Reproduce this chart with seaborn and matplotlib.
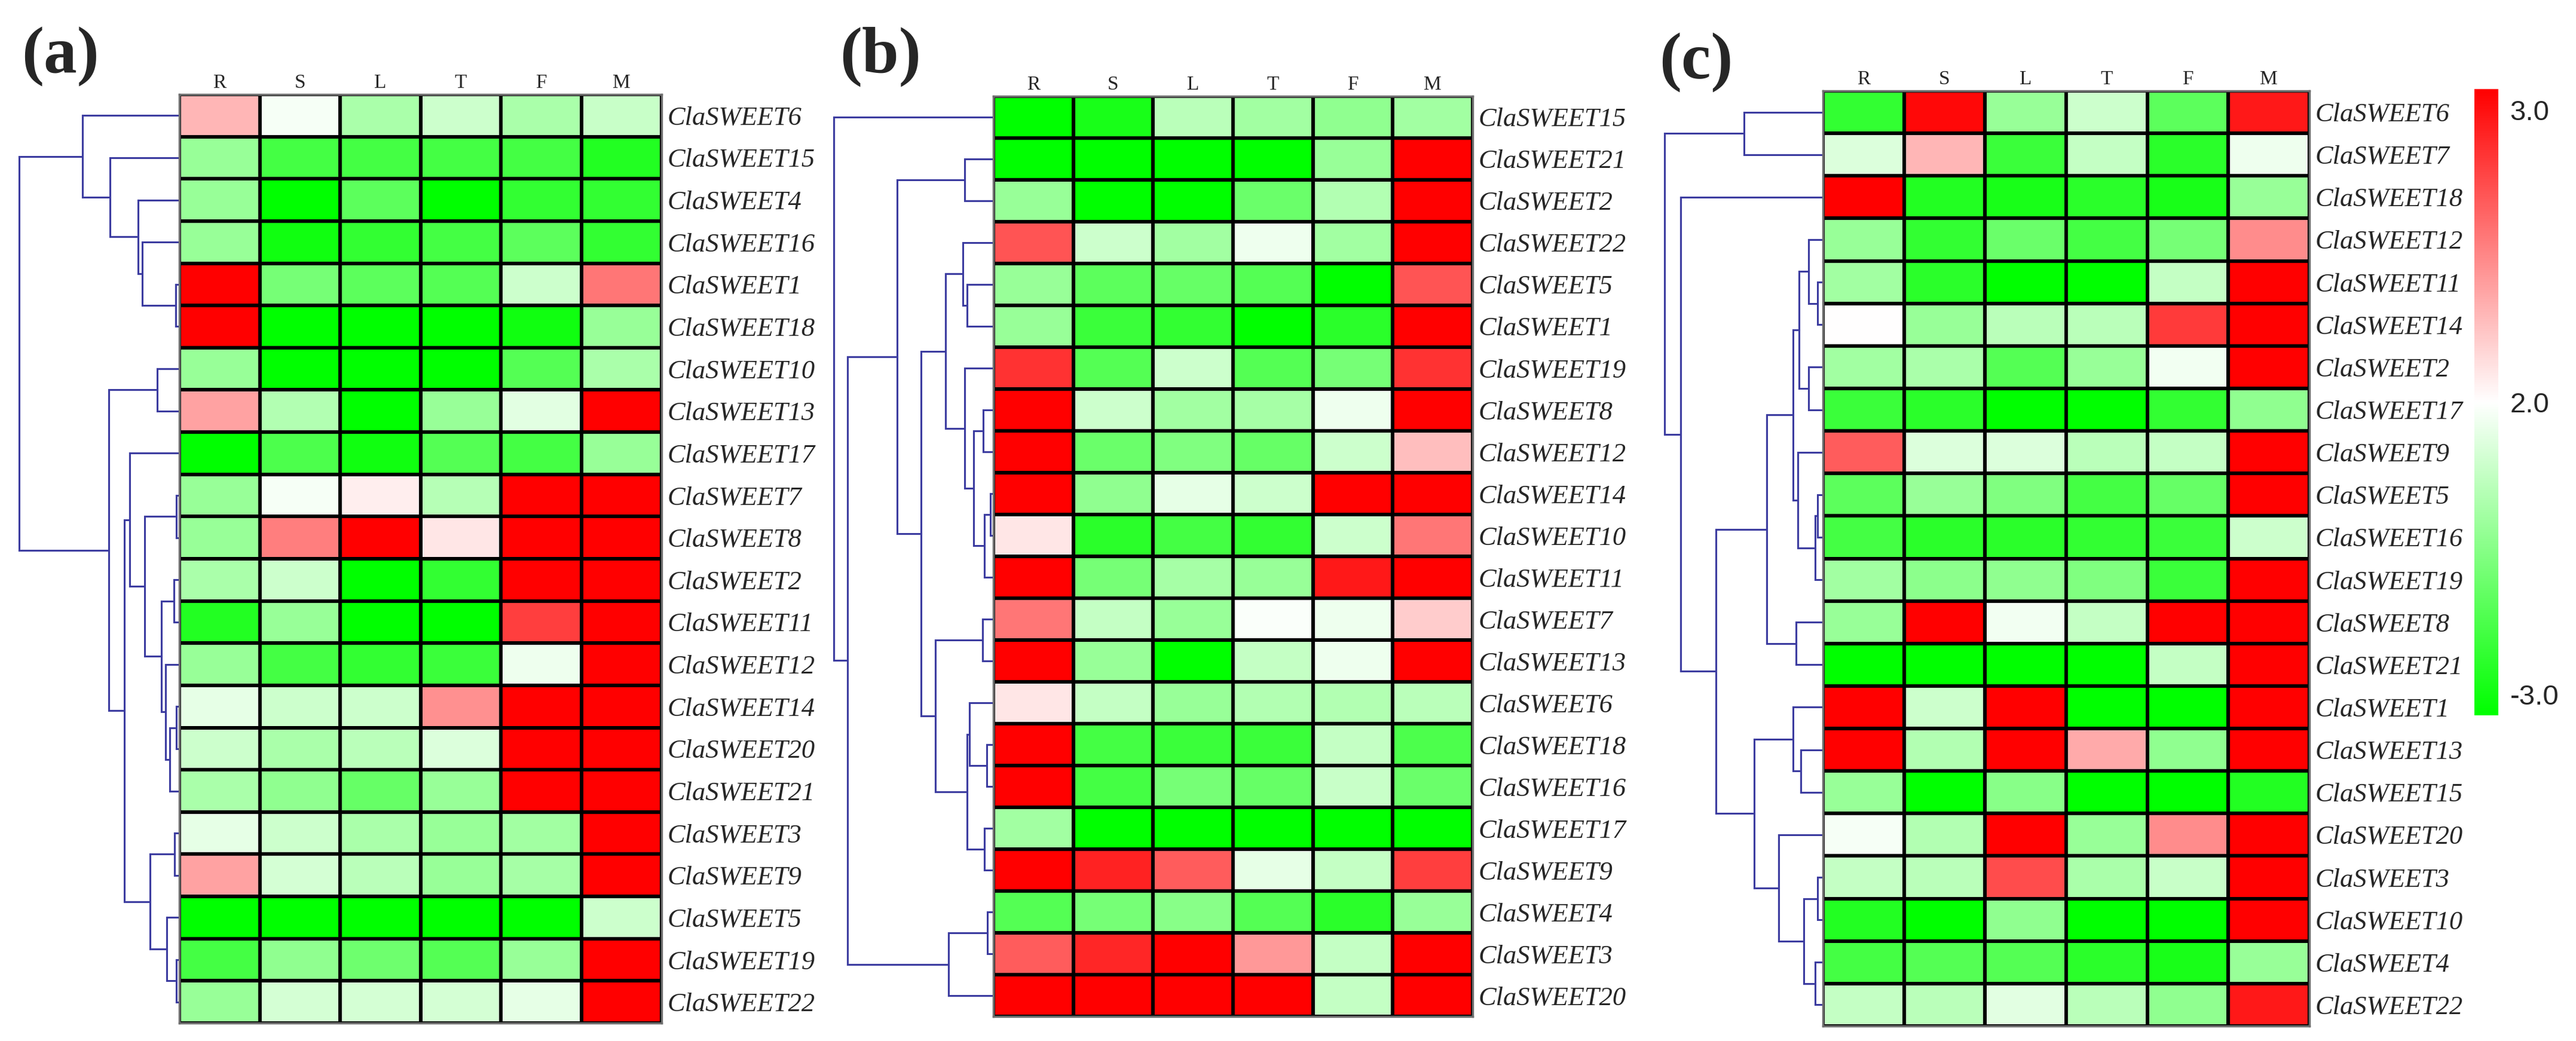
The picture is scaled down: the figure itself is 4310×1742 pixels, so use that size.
import numpy as np
import pandas as pd
import matplotlib
matplotlib.use("Agg")
import matplotlib.pyplot as plt
import seaborn as sns
from matplotlib.colors import LinearSegmentedColormap

W, H = 4310, 1742

TISSUES = ["R", "S", "L", "T", "F", "M"]

# ---- panel (a) ----
GENES_A = ["ClaSWEET6", "ClaSWEET15", "ClaSWEET4", "ClaSWEET16", "ClaSWEET1", "ClaSWEET18",
           "ClaSWEET10", "ClaSWEET13", "ClaSWEET17", "ClaSWEET7", "ClaSWEET8", "ClaSWEET2",
           "ClaSWEET11", "ClaSWEET12", "ClaSWEET14", "ClaSWEET20", "ClaSWEET21", "ClaSWEET3",
           "ClaSWEET9", "ClaSWEET5", "ClaSWEET19", "ClaSWEET22"]
VALUES_A = [
    [0.85, -0.1, -1.0, -0.6, -1.0, -0.65],
    [-1.2, -2.2, -2.2, -2.2, -2.2, -2.6],
    [-1.2, -3.0, -1.9, -3.0, -2.4, -2.4],
    [-1.2, -2.8, -2.4, -2.2, -1.9, -2.4],
    [3.0, -1.6, -1.9, -2.0, -0.6, 1.6],
    [3.0, -3.0, -3.0, -3.0, -2.8, -1.2],
    [-1.2, -3.0, -3.0, -3.0, -2.0, -1.0],
    [1.1, -0.9, -3.0, -1.2, -0.35, 3.0],
    [-3.0, -2.1, -2.8, -2.0, -2.2, -1.2],
    [-1.2, -0.1, 0.2, -0.85, 3.0, 3.0],
    [-1.2, 1.5, 3.0, 0.3, 3.0, 3.0],
    [-1.0, -0.6, -3.0, -2.4, 3.0, 3.0],
    [-2.6, -1.2, -3.0, -3.0, 2.25, 3.0],
    [-1.2, -2.2, -2.4, -2.3, -0.2, 3.0],
    [-0.3, -0.6, -0.6, 1.3, 3.0, 3.0],
    [-0.6, -1.0, -0.8, -0.4, 3.0, 3.0],
    [-1.0, -1.3, -1.8, -1.2, 3.0, 3.0],
    [-0.3, -0.6, -1.0, -1.2, -1.1, 3.0],
    [1.1, -0.5, -0.8, -1.2, -1.05, 3.0],
    [-3.0, -3.0, -3.0, -3.0, -3.0, -0.6],
    [-2.2, -1.3, -1.7, -2.0, -1.2, 3.0],
    [-1.2, -0.5, -0.5, -0.5, -0.3, 3.0],
]
# merges: (left id, right id, height); ids >= 22 are earlier merges
LINKAGE_A = [(4, 5, 6), (3, 22, 67), (2, 23, 75), (1, 24, 125), (0, 25, 175),
             (6, 7, 40), (9, 10, 5), (11, 12, 10), (14, 15, 5), (30, 16, 17),
             (13, 31, 25), (29, 32, 32), (28, 33, 63), (8, 34, 90), (17, 18, 9),
             (20, 21, 5), (19, 37, 23), (36, 38, 53), (35, 39, 100), (27, 40, 128),
             (26, 41, 290)]

# ---- panel (b) ----
GENES_B = ["ClaSWEET15", "ClaSWEET21", "ClaSWEET2", "ClaSWEET22", "ClaSWEET5", "ClaSWEET1",
           "ClaSWEET19", "ClaSWEET8", "ClaSWEET12", "ClaSWEET14", "ClaSWEET10", "ClaSWEET11",
           "ClaSWEET7", "ClaSWEET13", "ClaSWEET6", "ClaSWEET18", "ClaSWEET16", "ClaSWEET17",
           "ClaSWEET9", "ClaSWEET4", "ClaSWEET3", "ClaSWEET20"]
VALUES_B = [
    [-3.0, -2.7, -0.8, -1.1, -1.3, -1.1],
    [-3.0, -3.0, -3.0, -3.0, -1.2, 3.0],
    [-1.2, -3.0, -3.0, -1.75, -0.9, 3.0],
    [2.0, -0.6, -1.1, -0.2, -1.1, 3.0],
    [-1.2, -1.9, -1.8, -2.0, -3.0, 2.0],
    [-1.2, -2.3, -2.4, -3.0, -2.5, 3.0],
    [2.4, -2.0, -0.6, -2.0, -1.6, 2.4],
    [3.0, -0.6, -1.1, -1.05, -0.2, 3.0],
    [3.0, -1.75, -1.5, -1.8, -0.6, 0.75],
    [3.0, -1.3, -0.3, -0.6, 3.0, 3.0],
    [0.3, -2.5, -2.2, -2.4, -0.6, 1.6],
    [3.0, -1.6, -1.05, -1.2, 2.7, 3.0],
    [1.6, -0.7, -1.2, -0.05, -0.2, 0.6],
    [3.0, -1.2, -3.0, -0.7, -0.2, 3.0],
    [0.3, -0.7, -1.2, -0.9, -0.9, -0.8],
    [3.0, -2.2, -2.3, -2.3, -0.7, -2.1],
    [3.0, -2.2, -1.6, -1.8, -0.65, -1.75],
    [-1.1, -3.0, -3.0, -3.0, -3.0, -3.0],
    [3.0, 2.6, 1.9, -0.3, -0.7, 2.25],
    [-2.0, -1.6, -1.4, -2.0, -2.5, -1.2],
    [1.9, 2.55, 3.0, 1.2, -0.7, 3.0],
    [3.0, 3.0, 3.0, 3.0, -0.7, 3.0],
]
LINKAGE_B = [(1, 2, 65), (4, 5, 60), (3, 23, 70), (7, 8, 23), (9, 10, 7),
             (26, 11, 20), (25, 27, 45), (6, 28, 65), (24, 29, 110), (12, 13, 25),
             (15, 16, 15), (14, 32, 55), (17, 18, 20), (33, 34, 60), (31, 35, 133),
             (30, 36, 165), (22, 37, 220), (19, 20, 13), (39, 21, 103), (38, 40, 333),
             (0, 41, 365)]

# ---- panel (c) ----
GENES_C = ["ClaSWEET6", "ClaSWEET7", "ClaSWEET18", "ClaSWEET12", "ClaSWEET11", "ClaSWEET14",
           "ClaSWEET2", "ClaSWEET17", "ClaSWEET9", "ClaSWEET5", "ClaSWEET16", "ClaSWEET19",
           "ClaSWEET8", "ClaSWEET21", "ClaSWEET1", "ClaSWEET13", "ClaSWEET15", "ClaSWEET20",
           "ClaSWEET3", "ClaSWEET10", "ClaSWEET4", "ClaSWEET22"]
VALUES_C = [
    [-2.4, 2.9, -1.2, -0.6, -1.9, 2.7],
    [-0.4, 0.85, -2.3, -0.7, -2.5, -0.2],
    [3.0, -2.6, -2.7, -2.5, -2.7, -1.2],
    [-1.2, -2.4, -1.75, -2.2, -1.6, 1.35],
    [-1.1, -2.5, -3.0, -3.0, -0.7, 3.0],
    [0.0, -1.2, -0.8, -0.8, 2.3, 3.0],
    [-1.1, -1.0, -2.0, -1.2, -0.15, 3.0],
    [-2.3, -2.5, -3.0, -3.0, -2.4, -1.3],
    [1.9, -0.4, -0.4, -0.8, -0.7, 3.0],
    [-1.9, -1.2, -1.5, -2.2, -1.8, 3.0],
    [-2.2, -2.5, -2.5, -2.4, -2.3, -0.6],
    [-1.1, -1.35, -1.3, -1.5, -2.3, 3.0],
    [-1.2, 3.0, -0.15, -0.7, 3.0, 3.0],
    [-3.0, -3.0, -3.0, -3.0, -0.7, 3.0],
    [3.0, -0.6, 3.0, -3.0, -3.0, 3.0],
    [3.0, -0.9, 3.0, 1.0, -1.3, 3.0],
    [-1.2, -3.0, -1.4, -3.0, -3.0, -2.6],
    [-0.1, -0.9, 3.0, -1.2, 1.35, 3.0],
    [-0.7, -0.8, 2.1, -1.0, -0.65, 3.0],
    [-2.6, -3.0, -1.3, -3.0, -3.0, 3.0],
    [-2.2, -2.0, -2.0, -2.5, -2.7, -1.2],
    [-0.7, -0.8, -0.35, -0.8, -1.3, 2.7],
]
LINKAGE_C = [(0, 1, 183), (4, 5, 13), (3, 23, 33), (6, 7, 33), (24, 25, 55),
             (9, 10, 13), (27, 11, 18), (8, 28, 58), (26, 29, 70), (12, 13, 63),
             (30, 31, 130), (15, 16, 52), (14, 33, 70), (18, 19, 13), (20, 21, 18),
             (35, 36, 45), (17, 37, 103), (34, 38, 160), (32, 39, 248), (2, 40, 331),
             (22, 41, 368)]

CBAR_TICKS = [2.8, 0.0, -2.8]
CBAR_LABELS = ["3.0", "2.0", "-3.0"]

TREE_COLOR = "#3c3ca0"
cmap = LinearSegmentedColormap.from_list("gwr", ["#00ff00", "#ffffff", "#ff0000"])

sns.set_style("white")
plt.rcParams["font.family"] = ["Liberation Serif", "DejaVu Serif"]


def box(fig, x0, y0, x1, y1):
    # pixel box (from top-left) -> figure axes
    return fig.add_axes([x0 / W, 1 - y1 / H, (x1 - x0) / W, (y1 - y0) / H])


def draw_tree(ax, links, n):
    pos = {i: i + 0.5 for i in range(n)}
    hgt = {i: 0.0 for i in range(n)}
    for k, (a, b, h) in enumerate(links):
        ya, yb = pos[a], pos[b]
        ax.plot([hgt[a], h, h, hgt[b]], [ya, ya, yb, yb], color=TREE_COLOR,
                lw=2.2, clip_on=False, solid_joinstyle="miter")
        pos[n + k] = (ya + yb) / 2
        hgt[n + k] = h
    ax.set_xlim(links[-1][2], 0)
    ax.set_ylim(n, 0)
    ax.axis("off")


def draw_heat(ax, genes, values, cbar_ax=None):
    df = pd.DataFrame(values, index=genes, columns=TISSUES)
    sns.heatmap(df, ax=ax, cmap=cmap, vmin=-3, vmax=3, linewidths=3, linecolor="black",
                cbar=cbar_ax is not None, cbar_ax=cbar_ax)
    ax.xaxis.tick_top()
    ax.yaxis.tick_right()
    ax.tick_params(axis="x", length=0, pad=3, labelsize=24)
    ax.tick_params(axis="y", length=0, pad=7, labelsize=32)
    ax.set_xticklabels(TISSUES, rotation=0)
    ax.set_yticklabels(genes, rotation=0, fontstyle="italic")
    for side in ax.spines.values():
        side.set_visible(True)
        side.set_color("#6e6e6e")
        side.set_linewidth(2.5)


fig = plt.figure(figsize=(W / 100, H / 100), dpi=100)

panels = [
    ("(a)", GENES_A, VALUES_A, LINKAGE_A, (32, 300, 1107, 158, 1712), (101, 95)),
    ("(b)", GENES_B, VALUES_B, LINKAGE_B, (1395, 1662, 2464, 161, 1701), (1473, 95)),
    ("(c)", GENES_C, VALUES_C, LINKAGE_C, (2785, 3050, 3864, 152, 1717), (2838, 105)),
]

for i, (tag, genes, values, links, (xr, xl, xh, yt, yb), (tx, ty)) in enumerate(panels):
    tree_ax = box(fig, xr, yt, xl, yb)
    draw_tree(tree_ax, links, len(genes))
    heat_ax = box(fig, xl, yt, xh, yb)
    cax = box(fig, 4140, 149, 4180, 1197) if i == 2 else None
    draw_heat(heat_ax, genes, values, cbar_ax=cax)
    fig.text(tx / W, 1 - ty / H, tag, ha="center", va="center",
             fontsize=80, fontweight="bold")
    if cax is not None:
        cb = heat_ax.collections[0].colorbar
        cb.set_ticks(CBAR_TICKS)
        cb.set_ticklabels(CBAR_LABELS)
        cb.outline.set_visible(False)
        cax.tick_params(length=0, pad=14)
        for lbl in cax.get_yticklabels():
            lbl.set_fontfamily(["Liberation Sans", "DejaVu Sans"])
            lbl.set_fontsize(34)

fig.savefig("out.png", dpi=100)
